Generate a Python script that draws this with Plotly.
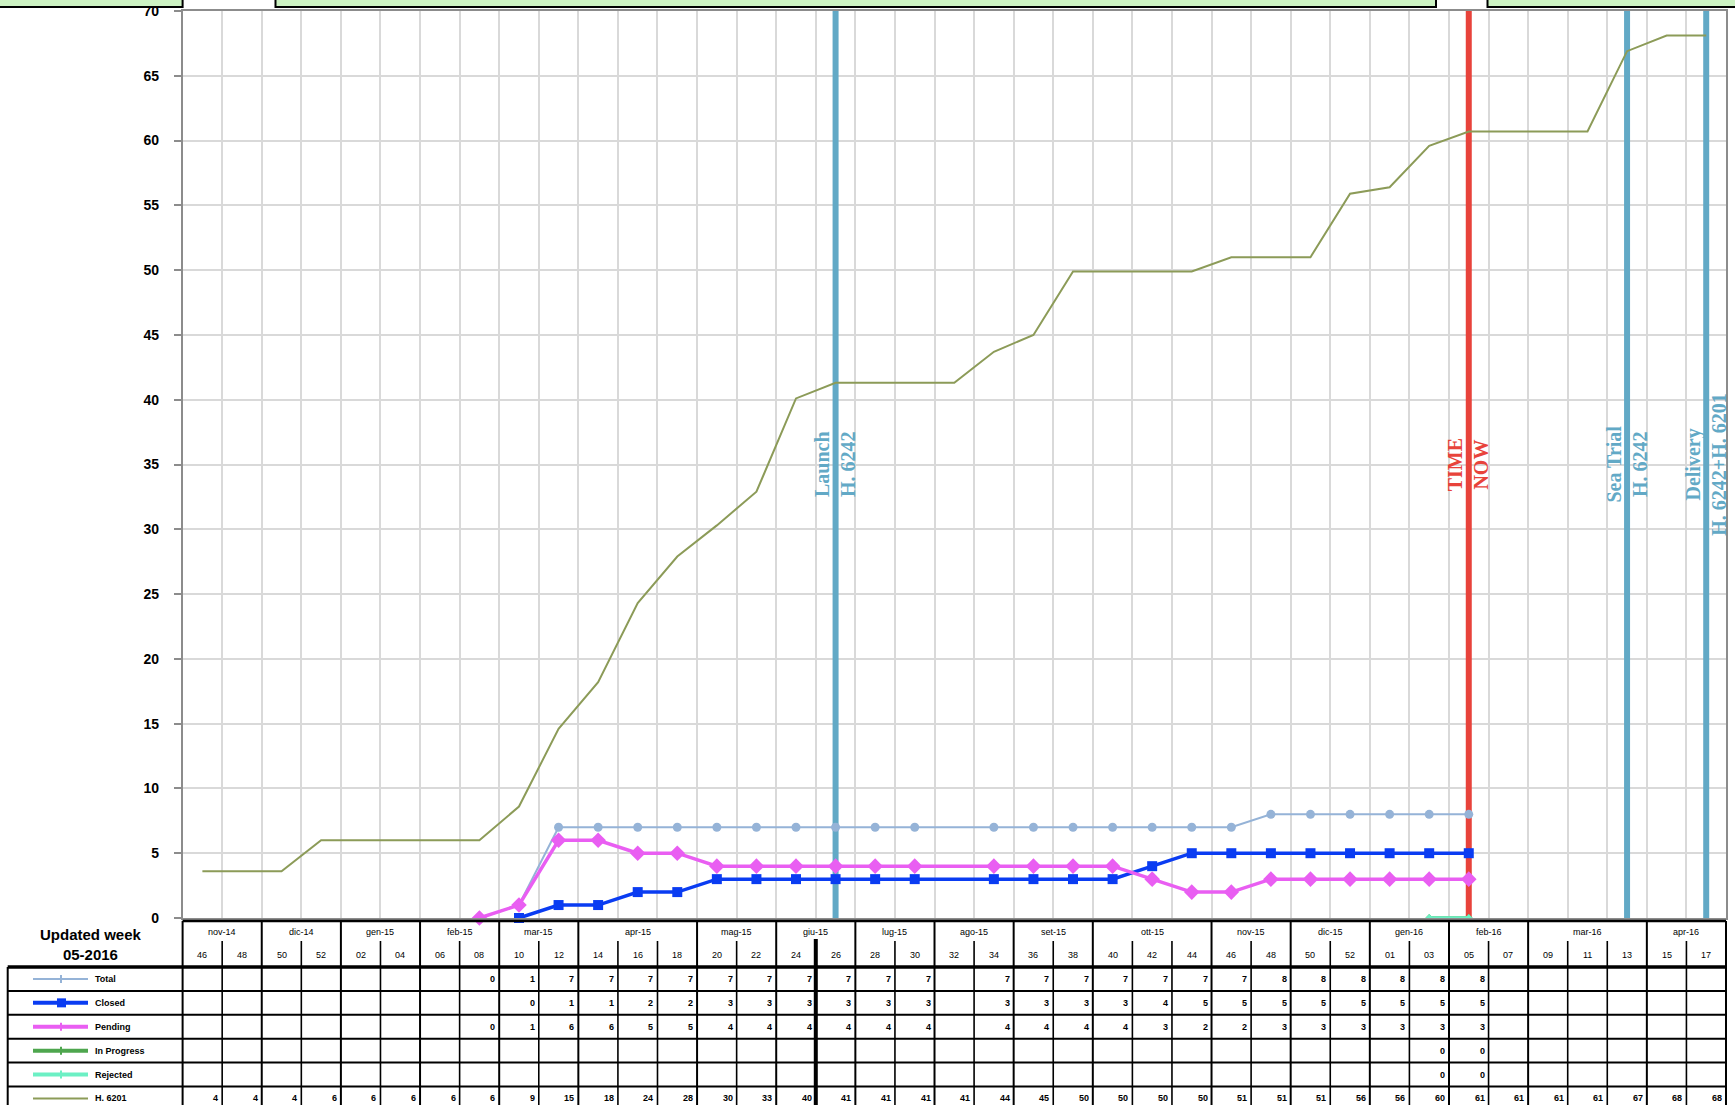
import plotly.graph_objects as go

# ---------------- data ----------------
month_labels = ["nov-14", "dic-14", "gen-15", "feb-15", "mar-15", "apr-15", "mag-15", "giu-15",
                "lug-15", "ago-15", "set-15", "ott-15", "nov-15", "dic-15", "gen-16", "feb-16",
                "mar-16", "apr-16"]
month_nweeks = [2, 2, 2, 2, 2, 3, 2, 2, 2, 2, 2, 3, 2, 2, 2, 2, 3, 2]
weeks = ["46", "48", "50", "52", "02", "04", "06", "08", "10", "12", "14", "16", "18", "20", "22",
         "24", "26", "28", "30", "32", "34", "36", "38", "40", "42", "44", "46", "48", "50", "52",
         "01", "03", "05", "07", "09", "11", "13", "15", "17"]

N = None
total = [N, N, N, N, N, N, N, 0, 1, 7, 7, 7, 7, 7, 7, 7, 7, 7, 7, N, 7, 7, 7, 7, 7, 7, 7, 8, 8, 8,
         8, 8, 8, N, N, N, N, N, N]
closed = [N, N, N, N, N, N, N, N, 0, 1, 1, 2, 2, 3, 3, 3, 3, 3, 3, N, 3, 3, 3, 3, 4, 5, 5, 5, 5, 5,
          5, 5, 5, N, N, N, N, N, N]
pending = [N, N, N, N, N, N, N, 0, 1, 6, 6, 5, 5, 4, 4, 4, 4, 4, 4, N, 4, 4, 4, 4, 3, 2, 2, 3, 3, 3,
           3, 3, 3, N, N, N, N, N, N]
in_progress = [N] * 31 + [0, 0] + [N] * 6
rejected = [N] * 31 + [0, 0] + [N] * 6
h6201 = [3.6, 3.6, 3.6, 6, 6, 6, 6, 6, 8.6, 14.6, 18.2, 24.3, 27.9, 30.3, 32.9, 40.1, 41.3, 41.3,
         41.3, 41.3, 43.7, 45, 49.9, 49.9, 49.9, 49.9, 51, 51, 51, 55.9, 56.4, 59.6, 60.7, 60.7,
         60.7, 60.7, 66.9, 68.1, 68.1]

series_names = ["Total", "Closed", "Pending", "In Progress", "Rejected", "H. 6201"]
series_values = [total, closed, pending, in_progress, rejected, h6201]

events = [("Launch<br>H. 6242", "giu-15", "26"),
          ("TIME<br>NOW", "feb-16", "05"),
          ("Sea Trial<br>H. 6242", "mar-16", "13"),
          ("Delivery<br>H. 6242+H. 6201", "apr-16", "17")]
updated_label = "Updated week<br>05-2016"

# ---------------- styles ----------------
COL = {"Total": "#95b3d7", "Closed": "#0a3cf2", "Pending": "#e95ef2",
       "In Progress": "#4ea64e", "Rejected": "#6cf0c4", "H. 6201": "#8c9b58"}
EV_COL = {"TIME<br>NOW": "#e8433b"}
BLUE_EV = "#62a9c6"

# category keys (unique)
cat_month = []
for m, n in zip(month_labels, month_nweeks):
    cat_month += [m] * n
cats = [f"{m}|{w}" for m, w in zip(cat_month, weeks)]
ncol = len(cats)

W, H = 1735, 1105
X0, X1 = 182.6, 1726.0
YT, YB = 11.0, 918.0


def px(x):
    return x / W


def py(y):
    return 1 - y / H


fig = go.Figure()

# event lines (drawn beneath the series)
for label, m, w in events:
    c = EV_COL.get(label, BLUE_EV)
    fig.add_trace(go.Scatter(x=[f"{m}|{w}", f"{m}|{w}"], y=[0, 70], mode="lines",
                             line=dict(color=c, width=6), showlegend=False, hoverinfo="skip"))

styles = {
    "Total": dict(line=dict(color=COL["Total"], width=2), marker=dict(symbol="circle", size=9, color=COL["Total"])),
    "Closed": dict(line=dict(color=COL["Closed"], width=3.5), marker=dict(symbol="square", size=10, color=COL["Closed"])),
    "Pending": dict(line=dict(color=COL["Pending"], width=3.5), marker=dict(symbol="diamond", size=12, color=COL["Pending"])),
    "In Progress": dict(line=dict(color=COL["In Progress"], width=3.5), marker=dict(symbol="diamond", size=6, color=COL["In Progress"])),
    "Rejected": dict(line=dict(color=COL["Rejected"], width=3.5), marker=dict(symbol="diamond", size=6, color=COL["Rejected"])),
}
for name, vals in zip(series_names, series_values):
    if name == "H. 6201":
        fig.add_trace(go.Scatter(x=cats, y=vals, mode="lines", name=name,
                                 line=dict(color=COL[name], width=2), showlegend=False,
                                 cliponaxis=False))
    else:
        fig.add_trace(go.Scatter(x=cats, y=vals, mode="lines+markers", name=name, connectgaps=True,
                                 showlegend=False, cliponaxis=False, **styles[name]))

annotations = []
for label, m, w in events:
    c = EV_COL.get(label, BLUE_EV)
    annotations.append(dict(x=cats.index(f"{m}|{w}"), y=35, xref="x", yref="y", text=label,
                            textangle=-90, showarrow=False, xanchor="center", yanchor="middle",
                            font=dict(family="Liberation Serif", size=20, color=c, weight="bold")))

# ---------------- table ----------------
shapes = []


def hline(y, x0, x1, w=2, c="black"):
    shapes.append(dict(type="line", xref="paper", yref="paper", x0=px(x0), x1=px(x1), y0=py(y), y1=py(y),
                       line=dict(color=c, width=w), layer="above"))


def vline(x, y0, y1, w=2, c="black"):
    shapes.append(dict(type="line", xref="paper", yref="paper", x0=px(x), x1=px(x), y0=py(y0), y1=py(y1),
                       line=dict(color=c, width=w), layer="above"))


colw = (X1 - X0) / ncol


def bx(k):
    return X0 + k * colw


HDR_TOP, HDR_MID, HDR_BOT = 921, 941, 967
ROW_H = 23.9
LX0 = 7.7
TAB_BOT = H + 5

hline(HDR_TOP, X0, X1, 2.5)
hline(HDR_BOT, LX0, X1, 3.5)
for r in range(1, len(series_names) + 1):
    hline(HDR_BOT + r * ROW_H, LX0, X1, 2)
vline(LX0, HDR_BOT, TAB_BOT, 2)
vline(X0, HDR_TOP, TAB_BOT, 2)
vline(X1, HDR_TOP, TAB_BOT, 2)

font_small = dict(family="Liberation Sans Narrow, Liberation Sans", size=9, color="black")

k = 0
for m, n in zip(month_labels, month_nweeks):
    annotations.append(dict(x=px((bx(k) + bx(k + n)) / 2), y=py(932), xref="paper", yref="paper",
                            text=m, showarrow=False, xanchor="center", yanchor="middle", font=font_small))
    if k > 0:
        vline(bx(k), HDR_TOP, TAB_BOT, 2)
    for j in range(1, n):
        vline(bx(k + j), HDR_MID, TAB_BOT, 1.6)
    k += n

# thick separator in giu-15
sep = cats.index("giu-15|26")
vline(bx(sep), HDR_MID - 2, TAB_BOT, 4)

for i, w in enumerate(weeks):
    annotations.append(dict(x=px((bx(i) + bx(i + 1)) / 2), y=py(955), xref="paper", yref="paper",
                            text=w, showarrow=False, xanchor="center", yanchor="middle", font=font_small))

for r, (name, vals) in enumerate(zip(series_names, series_values)):
    yc = HDR_BOT + (r + 0.5) * ROW_H
    for i, v in enumerate(vals):
        if v is None:
            continue
        annotations.append(dict(x=px(bx(i + 1) - 2), y=py(yc), xref="paper", yref="paper",
                                text=str(int(round(v))), showarrow=False, xanchor="right",
                                yanchor="middle", font=dict(family="Liberation Sans Narrow, Liberation Sans",
                                                            size=9, color="black", weight="bold")))
    # legend sample
    lw = 2 if name in ("Total", "H. 6201") else 4
    shapes.append(dict(type="line", xref="paper", yref="paper", x0=px(33), x1=px(88), y0=py(yc), y1=py(yc),
                       line=dict(color=COL[name], width=lw), layer="above"))
    if name == "Closed":
        shapes.append(dict(type="rect", xref="paper", yref="paper", x0=px(57), x1=px(66), y0=py(yc - 4.5),
                           y1=py(yc + 4.5), fillcolor=COL[name], line=dict(width=0), layer="above"))
    elif name != "H. 6201":
        shapes.append(dict(type="line", xref="paper", yref="paper", x0=px(61), x1=px(61), y0=py(yc - 4),
                           y1=py(yc + 4), line=dict(color=COL[name], width=2), layer="above"))
    annotations.append(dict(x=px(93), y=py(yc), xref="paper", yref="paper", text=name, showarrow=False,
                            xanchor="left", yanchor="middle",
                            font=dict(family="Liberation Sans Narrow, Liberation Sans", size=9,
                                      color="black", weight="bold")))

annotations.append(dict(x=px(91), y=py(944), xref="paper", yref="paper", text=updated_label,
                        showarrow=False, xanchor="center", yanchor="middle",
                        font=dict(family="Liberation Sans", size=15, color="black", weight="bold")))

# green boxes at the top (cut-off text boxes)
for x0, x1 in [(-5, 182.6), (275.5, 1436), (1487.5, 1745)]:
    shapes.append(dict(type="rect", xref="paper", yref="paper", x0=px(x0), x1=px(x1), y0=py(7),
                       y1=py(-10), fillcolor="#ccf2c2", line=dict(color="black", width=2), layer="above"))

fig.update_layout(
    width=W, height=H, margin=dict(l=0, r=0, t=0, b=0),
    paper_bgcolor="white", plot_bgcolor="white",
    showlegend=False,
    xaxis=dict(domain=[px(X0), px(X1)], type="category", categoryorder="array", categoryarray=cats,
               range=[-0.5, ncol - 0.5], tickson="boundaries", tickmode="linear", tick0=0, dtick=1,
               showticklabels=False, ticks="", showgrid=True, gridcolor="#d9d9d9", gridwidth=1.5,
               showline=True, linecolor="#8c8c8c", linewidth=1.5, mirror=True, automargin=False),
    yaxis=dict(domain=[py(YB), py(YT)], range=[0, 70], dtick=5, tick0=0, showgrid=True,
               gridcolor="#d9d9d9", gridwidth=1.5, zeroline=False, ticks="outside", ticklen=7,
               tickcolor="#8c8c8c", tickwidth=1.5, showline=True, linecolor="#8c8c8c", linewidth=1.5,
               mirror=True, ticklabelstandoff=12, automargin=False,
               tickfont=dict(family="Liberation Sans", size=14, color="black", weight="bold")),
    shapes=shapes, annotations=annotations,
)

fig.write_html("out.html", config={"displayModeBar": False},
               post_script="document.body.style.margin='0';document.body.style.overflow='hidden';")
